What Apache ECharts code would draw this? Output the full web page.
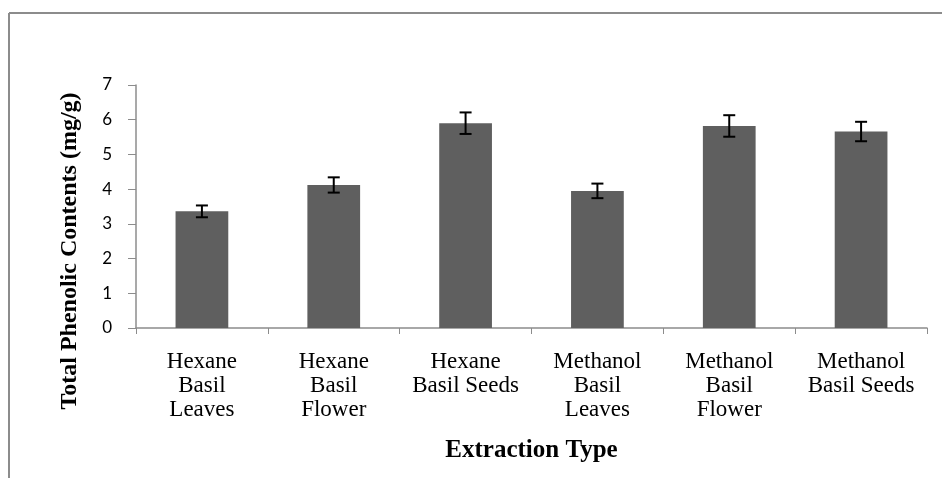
<!DOCTYPE html>
<html>
<head>
<meta charset="utf-8">
<script src="https://cdn.jsdelivr.net/npm/echarts@6/dist/echarts.min.js"></script>
<style>
html,body{margin:0;padding:0;background:#fff;}
#chart{width:942px;height:478px;}
</style>
</head>
<body>
<div id="chart"></div>
<script>
const categories = [
  'Hexane\nBasil\nLeaves',
  'Hexane\nBasil\nFlower',
  'Hexane\nBasil Seeds',
  'Methanol\nBasil\nLeaves',
  'Methanol\nBasil\nFlower',
  'Methanol\nBasil Seeds'
];
const phenolic = [3.36, 4.12, 5.90, 3.95, 5.82, 5.66];
const errors = [0.17, 0.22, 0.31, 0.21, 0.31, 0.28];
const yTicks = [0, 1, 2, 3, 4, 5, 6, 7];
const yTitle = 'Total Phenolic Contents (mg/g)';
const xTitle = 'Extraction Type';

const errData = phenolic.map((v, i) => [i, v - errors[i], v + errors[i]]);

const chart = echarts.init(document.getElementById('chart'));
chart.setOption({
  animation: false,
  backgroundColor: '#fff',
  grid: { left: 136, right: 15, top: 85, bottom: 150 },
  graphic: [
    { type: 'line', shape: { x1: 9, y1: 13, x2: 942, y2: 13 }, style: { stroke: '#8c8c8c', lineWidth: 2 } },
    { type: 'line', shape: { x1: 9, y1: 13, x2: 9, y2: 478 }, style: { stroke: '#8c8c8c', lineWidth: 2 } },
    {
      type: 'text', x: 70, y: 251, rotation: Math.PI / 2,
      style: {
        text: yTitle, fontFamily: 'Liberation Serif', fontWeight: 'bold', fontSize: 24,
        fill: '#000', align: 'center', verticalAlign: 'middle'
      }
    }
  ],
  xAxis: {
    type: 'category',
    data: categories,
    name: xTitle,
    nameLocation: 'middle',
    nameGap: 123,
    nameTextStyle: { fontFamily: 'Liberation Serif', fontWeight: 'bold', fontSize: 25, color: '#000', verticalAlign: 'middle' },
    axisLine: { lineStyle: { color: '#8c8c8c', width: 1.5 } },
    axisTick: { show: true, length: 6, lineStyle: { color: '#8c8c8c' } },
    axisLabel: { fontFamily: 'Liberation Serif', fontSize: 23, color: '#000', lineHeight: 24, margin: 22, interval: 0 }
  },
  yAxis: {
    type: 'value',
    min: 0, max: 7, interval: 1,
    axisLine: { show: true, lineStyle: { color: '#8c8c8c', width: 1.5 } },
    axisTick: { show: true, length: 8, lineStyle: { color: '#8c8c8c' } },
    splitLine: { show: false },
    axisLabel: {
      fontFamily: 'Lato', fontSize: 17, color: '#000', margin: 24,
      formatter: v => yTicks.includes(v) ? String(v) : ''
    }
  },
  series: [
    {
      type: 'bar',
      data: phenolic,
      barWidth: '40%',
      itemStyle: { color: '#5f5f5f' }
    },
    {
      type: 'custom',
      data: errData,
      z: 10,
      renderItem: function (params, api) {
        const x = api.value(0);
        const lo = api.coord([x, api.value(1)]);
        const hi = api.coord([x, api.value(2)]);
        const hw = 6;
        const style = { stroke: '#000', lineWidth: 2 };
        return {
          type: 'group',
          children: [
            { type: 'line', shape: { x1: lo[0], y1: lo[1], x2: hi[0], y2: hi[1] }, style: style },
            { type: 'line', shape: { x1: lo[0] - hw, y1: lo[1], x2: lo[0] + hw, y2: lo[1] }, style: style },
            { type: 'line', shape: { x1: hi[0] - hw, y1: hi[1], x2: hi[0] + hw, y2: hi[1] }, style: style }
          ]
        };
      }
    }
  ]
});
</script>
</body>
</html>
